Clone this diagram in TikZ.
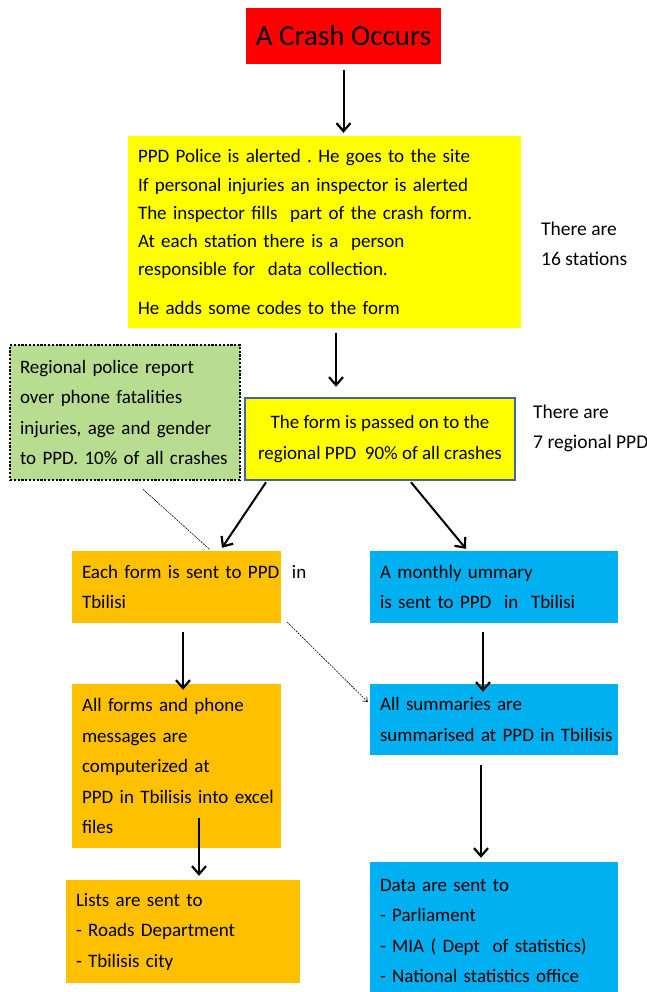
\documentclass[tikz,border=0pt]{standalone}
\usepackage{fontspec}
\setmainfont{Carlito}
\usetikzlibrary{arrows.meta,calc}
\definecolor{cred}{HTML}{FF0000}
\definecolor{cyellow}{HTML}{FFFF00}
\definecolor{cgreen}{HTML}{B9DD90}
\definecolor{corange}{HTML}{FFC000}
\definecolor{cblue}{HTML}{00B0F0}
\definecolor{cborder}{HTML}{41679E}
\hbadness=10000 \hfuzz=200pt
\frenchspacing
\begin{document}
\begin{tikzpicture}[x=1pt,y=-1pt,
  box/.style={rectangle, inner xsep=10pt, inner ysep=0pt, align=left,
    font=\fontsize{19}{30.5}\selectfont},
  plain/.style={inner sep=0pt, align=left, anchor=north west,
    font=\fontsize{19.5}{30}\selectfont},
  arr/.style={line width=2pt, -{Straight Barb[length=8pt,width=14pt,line width=2.2pt]}},
  thin/.style={line width=0.6pt, dash pattern=on 2pt off 1pt}]
\useasboundingbox (0,0) rectangle (647,992);
% boxes
\node[box, fill=cred, minimum width=195pt, minimum height=56pt, align=center,
  font=\fontsize{29}{34}\selectfont] (crash) at (343.5,36) {A Crash Occurs};
\node[box, fill=cyellow, minimum width=393pt, minimum height=192pt, text width=373pt,
  font=\fontsize{19}{28.3}\selectfont] (info) at (324.5,232)
  {\mbox{PPD Police is alerted . He goes to the site}\\
   \mbox{If personal injuries an inspector is alerted}\\
   \mbox{The inspector fills\ \ part of the crash form.}\\
   \mbox{At each station there is a\ \ person}\\
   \mbox{responsible for\ \ data collection.}\\[10pt]
   \mbox{He adds some codes to the form}};
\node[plain] (note1) at (541,222) {There are\\16 stations};
\node[box, fill=cgreen, draw=black, line width=2.5pt, dash pattern=on 2.2pt off 1.6pt,
  minimum width=230pt, minimum height=135pt, text width=210pt] (green) at (125,412.5)
  {\mbox{Regional police report}\\ \mbox{over phone fatalities}\\ \mbox{injuries, age and gender}\\ \mbox{to PPD. 10\% of all crashes}};
\node[box, fill=cyellow, draw=cborder, line width=2.5pt, minimum width=270pt, minimum height=82pt,
  align=center] (regional) at (380,439)
  {The form is passed on to the\\ regional PPD\ \ 90\% of all crashes};
\node[plain] (note2) at (533,405) {There are\\7 regional PPD};
\node[box, fill=corange, minimum width=209pt, minimum height=72pt, text width=189pt] (each) at (176.5,587)
  {\mbox{Each form is sent to PPD\ \ in}\\ \mbox{Tbilisi}};
\node[box, fill=cblue, minimum width=248pt, minimum height=72pt, text width=228pt] (monthly) at (494,587)
  {\mbox{A monthly ummary}\\ \mbox{is sent to PPD\ \ in\ \ Tbilisi}};
\node[box, fill=corange, minimum width=209pt, minimum height=164pt, text width=189pt] (allforms) at (176.5,766)
  {\mbox{All forms and phone}\\ \mbox{messages are}\\ \mbox{computerized at}\\ \mbox{PPD in Tbilisis into excel}\\ \mbox{files}};
\node[box, fill=cblue, minimum width=248pt, minimum height=71pt, text width=228pt] (allsum) at (494,719.5)
  {\mbox{All summaries are}\\ \mbox{summarised at PPD in Tbilisis}};
\node[box, fill=corange, minimum width=234pt, minimum height=103pt, text width=214pt] (lists) at (183,931.5)
  {\mbox{Lists are sent to}\\ \mbox{- Roads Department}\\ \mbox{- Tbilisis city}};
\node[box, fill=cblue, minimum width=248pt, minimum height=138pt, text width=228pt] (data) at (494,931)
  {\mbox{Data are sent to}\\ \mbox{- Parliament}\\ \mbox{- MIA ( Dept\ \ of statistics)}\\ \mbox{- National statistics office}};
% connectors
\draw[arr, shorten <=6pt, shorten >=3pt] (crash.south) -- (crash.south |- info.north);
\draw[arr] ($(info.south)+(11.5,5)$) -- ($(regional.north)+(-44,-10)$);
\draw[arr] ($(regional.south)+(-114,1)$) -- ($(each.north)+(45.5,-3)$);
\draw[arr] ($(regional.south)+(31,1)$) -- ($(monthly.north)+(-28,-2)$);
\draw[thin] ($(green.south)+(18,8)$) -- ($(each.north)+(33.5,-1)$);
\draw[arr] ($(each.south)+(6.5,9)$) -- ($(allforms.north)+(6.5,6)$);
\draw[arr] ($(monthly.south)+(-11,9)$) -- ($(allsum.north)+(-11,8)$);
\draw[thin, -{Straight Barb[length=4pt,width=6pt]}] ($(each.south east)+(6,-1)$) -- ($(allsum.west)+(-2,-17.5)$);
\draw[arr] ($(allforms.south)+(22.5,-30)$) -- ($(lists.north)+(16,-4)$);
\draw[arr] ($(allsum.south)+(-13,10)$) -- ($(data.north)+(-13,-4)$);
\end{tikzpicture}
\end{document}
